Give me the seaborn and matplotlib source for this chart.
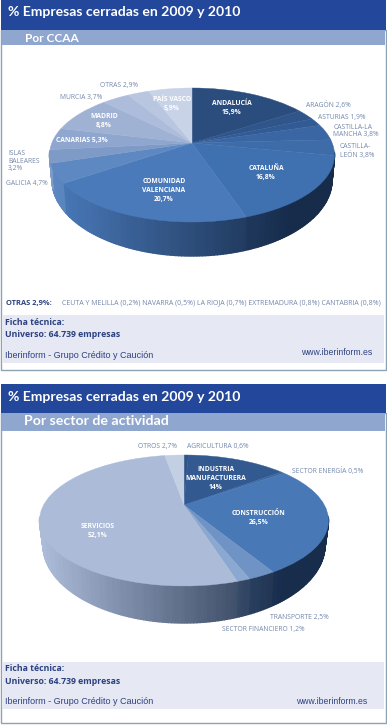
import numpy as np
import matplotlib
matplotlib.use("Agg")
import matplotlib.pyplot as plt
from matplotlib.patches import Rectangle
from matplotlib.transforms import Transform
import seaborn as sns

# chart values, clockwise from 12 o'clock
ccaa_labels = [
    "ANDALUCÍA\n15,9%", "ARAGÓN 2,6%", "ASTURIAS 1,9%", "CASTILLA-LA\nMANCHA 3,8%",
    "CASTILLA-\nLEÓN 3,8%", "CATALUÑA\n16,8%", "COMUNIDAD\nVALENCIANA\n20,7%",
    "GALICIA 4,7%", "ISLAS\nBALEARES\n3,2%", "CANARIAS 5,3%", "MADRID\n8,8%",
    "MURCIA 3,7%", "OTRAS 2,9%", "PAÍS VASCO\n5,9%",
]
ccaa_values = [15.9, 2.6, 1.9, 3.8, 3.8, 16.8, 20.7, 4.7, 3.2, 5.3, 8.8, 3.7, 2.9, 5.9]
sector_labels = [
    "AGRICULTURA 0,6%", "INDUSTRIA\nMANUFACTURERA\n14%", "SECTOR ENERGÍA 0,5%",
    "CONSTRUCCIÓN\n26,5%", "TRANSPORTE 2,5%", "SECTOR FINANCIERO 1,2%",
    "SERVICIOS\n52,1%", "OTROS 2,7%",
]
sector_values = [0.6, 14, 0.5, 26.5, 2.5, 1.2, 52.1, 2.7]

otras_head = "OTRAS 2,9%:"
otras_detail = "CEUTA Y MELILLA (0,2%) NAVARRA (0,5%) LA RIOJA (0,7%) EXTREMADURA (0,8%) CANTABRIA (0,8%)"

ccaa_colors = ["#2b4d7e", "#2f558b", "#325b95", "#3a66a3", "#3e6ca9", "#3f70b0", "#4a7aba",
               "#5d88c1", "#7e9ac7", "#8fa6ce", "#a0b2d4", "#adbcda", "#b9c6e0", "#c9d3e7"]
sector_colors = ["#2f5386", "#335a90", "#3a689f", "#4878b5", "#6f93c5", "#8ba8d0", "#abbbd8", "#c3cfe3"]

# label anchor (centre, pixels), white = inside the pie
ccaa_pos = [(232, 108), (328, 105), (342, 117), (356, 131), (357, 151), (266, 173), (164, 190),
            (27, 183), (24, 161), (82, 140), (104, 121), (81, 97), (119, 85), (172, 104)]
ccaa_white = [True, False, False, False, False, True, True, False, False, True, True, False, False, True]
ccaa_left = [3, 4, 8]
sector_pos = [(218, 446), (216, 478), (328, 471), (259, 518), (299, 617), (263, 629), (98, 531), (157, 446)]
sector_white = [False, True, False, True, False, False, True, False]

BLUE = "#23479a"
STRIP = "#8fa6cf"
FOOT = "#e6e9f3"
BORDER = "#8ba3b3"
LABEL = "#7488ad"
NAVY = "#2c4180"


class Tilt(Transform):
    # circle of the pie -> tilted disc in pixels, centre stays at the apex
    input_dims = output_dims = 2

    def __init__(self, cx, apex, top, bottom, rx):
        super().__init__()
        up, down = apex - top, bottom - apex
        self.k = (down - up) / (down + up)
        self.a = up * (1 + self.k)
        self.b = rx * np.sqrt(1 - self.k ** 2)
        self.cx, self.apex = cx, apex

    def transform_non_affine(self, xy):
        xy = np.asarray(xy, dtype=float)
        w = 1 + self.k * xy[:, 1]
        return np.column_stack([self.cx + self.b * xy[:, 0] / w, self.apex - self.a * xy[:, 1] / w])


def draw_pie(ax, values, colors, cx, apex, top, bottom, rx, low_y, low_ry, low_rx):
    tilt = Tilt(cx, apex, top, bottom, rx)
    mid = (top + bottom) / 2
    ry = (bottom - top) / 2

    # wall below the rim, split along the same angles as the slices
    edges = np.cumsum([0] + list(values)) / np.sum(values) * 2 * np.pi
    for i, color in enumerate(colors):
        ramp = sns.blend_palette([color, "#0f1f38"], n_colors=64)
        n = max(int(np.degrees(edges[i + 1] - edges[i])), 1)
        ang = np.linspace(edges[i], edges[i + 1], n + 1)
        rim = tilt.transform_non_affine(np.column_stack([np.sin(ang), np.cos(ang)]))
        low = np.column_stack([cx + (rim[:, 0] - cx) * low_rx / rx, low_y + (rim[:, 1] - mid) * low_ry / ry])
        for j in range(n):
            if rim[j, 1] < mid - 3 and rim[j + 1, 1] < mid - 3:
                continue
            t = np.clip((rim[j, 0] - cx + rx) / (2 * rx), 0, 1)
            xs = [rim[j, 0], rim[j + 1, 0], low[j + 1, 0], low[j, 0]]
            ys = [rim[j, 1], rim[j + 1, 1], low[j + 1, 1], low[j, 1]]
            c = ramp[int(min(t, 0.85) * 63)]
            ax.fill(xs, ys, color=c, lw=1.0, zorder=3)

    wedges, _ = ax.pie(values, colors=colors, startangle=90, counterclock=False,
                       wedgeprops=dict(linewidth=0.3))
    for w in wedges:
        w.set_edgecolor(w.get_facecolor())
        w.set_transform(tilt + ax.transData)
        w.set_clip_on(False)
        w.set_zorder(4)


def panel(ax, y0, y1, y2, y3, y4, y5, sub, sub_size, title_y, sub_y, ficha_y, foot_y):
    ax.add_patch(Rectangle((1, y1), 385, y5 - y1, fc="white", ec=BORDER, lw=1, zorder=0))
    ax.add_patch(Rectangle((1, y0), 385, y1 - y0, fc=BLUE, lw=0, zorder=1))
    ax.add_patch(Rectangle((2, y1), 383, y2 - y1, fc=STRIP, lw=0, zorder=1))
    ax.add_patch(Rectangle((3, y3), 381, y4 - y3, fc=FOOT, lw=0, zorder=1))
    ax.text(8, title_y, "% Empresas cerradas en 2009 y 2010", color="white", fontsize=10.1,
            fontweight="bold", family="Lato", va="center", zorder=6)
    ax.text(sub[1], sub_y, sub[0], color="white", fontsize=sub_size, fontweight="bold",
            family="Lato", va="center", zorder=6)
    ax.text(5, ficha_y, "Ficha técnica:\nUniverso: 64.739 empresas", color=NAVY, fontsize=6.3,
            fontweight="bold", family="Open Sans", va="center", linespacing=1.5, zorder=6)
    ax.text(5, foot_y, "Iberinform - Grupo Crédito y Caución", color=NAVY, fontsize=6.5,
            family="Liberation Sans", va="center", zorder=6)


def put_labels(ax, labels, pos, white, left=()):
    for i, (text, (x, y), w) in enumerate(zip(labels, pos, white)):
        ax.text(x, y, text, ha="center", va="center", ma="left" if i in left else "center",
                fontsize=4.9, color="white" if w else LABEL,
                fontweight="bold" if w else "normal", family="Open Sans",
                linespacing=1.4 if w else 1.15, zorder=6)


sns.set_theme(style="white")
fig = plt.figure(figsize=(3.87, 7.25), dpi=100)
ax = fig.add_axes([0, 0, 1, 1])

draw_pie(ax, ccaa_values, ccaa_colors, 192, 143, 88, 222, 142.5, 180, 76, 140)
draw_pie(ax, sector_values, sector_colors, 184, 505, 455, 586, 144.5, 545, 78, 141)

ax.set_aspect("auto")
ax.set_xlim(0, 387)
ax.set_ylim(725, 0)
ax.axis("off")

panel(ax, 0, 30, 45, 315, 363, 370, ("Por CCAA", 25), 8.6, 12, 38, 328.5, 355)
panel(ax, 384, 413, 431, 662, 709, 723, ("Por sector de actividad", 24), 10.2, 397, 421, 675, 702)
ax.text(372, 352, "www.iberinform.es", color=NAVY, fontsize=6.2, family="Liberation Sans",
        ha="right", va="center", zorder=6)
ax.text(367, 701, "www.iberinform.es", color=NAVY, fontsize=6.2, family="Liberation Sans",
        ha="right", va="center", zorder=6)

ax.text(6, 303, otras_head, color=NAVY, fontsize=5.4, fontweight="bold", family="Open Sans",
        va="center", zorder=6)
ax.text(381, 303, otras_detail, color=LABEL, fontsize=5.05, family="Open Sans", ha="right",
        va="center", zorder=6)

put_labels(ax, ccaa_labels, ccaa_pos, ccaa_white, ccaa_left)
put_labels(ax, sector_labels, sector_pos, sector_white)

fig.savefig("out.png", dpi=100, facecolor="white")
